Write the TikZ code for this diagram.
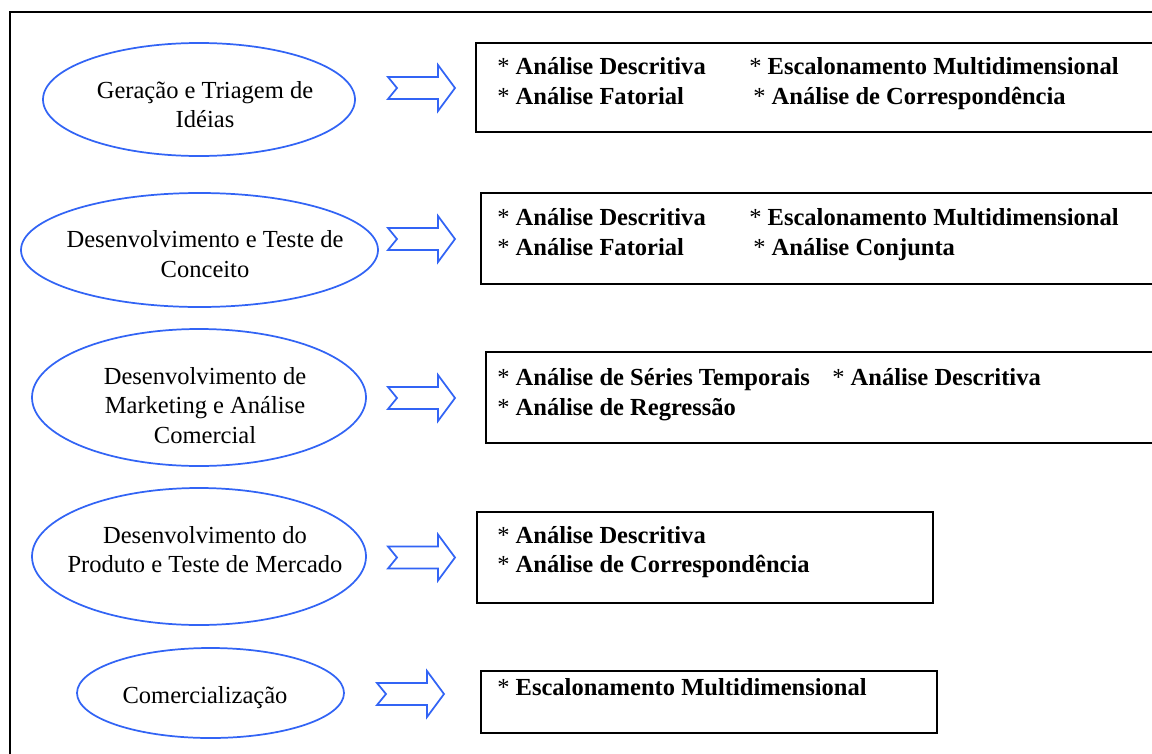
\documentclass[tikz,border=0pt]{standalone}
\usepackage{fontspec}
\setmainfont{Liberation Serif}
\usetikzlibrary{shapes.geometric}
\definecolor{stageblue}{RGB}{50,100,245}
\newcommand{\lightstar}{{\mdseries*}}
\tikzset{
  phase/.style={draw=stageblue, line width=1.3pt, ellipse, inner sep=0pt},
  phasetxt/.style={anchor=base, inner sep=0pt, font=\fontsize{18.4}{22}\selectfont},
  boxline/.style={draw=black, line width=1.5pt},
  boxtxt/.style={anchor=base west, inner sep=0pt, font=\fontsize{18.4}{22}\selectfont\bfseries},
  blockarrow/.pic={\draw[stageblue, line width=1.3pt, line join=miter]
    (0,-11) -- (50,-11) -- (50,-23) -- (67,0) -- (50,23) -- (50,11) -- (0,11) -- (9,0) -- cycle;}
}
\begin{document}
\begin{tikzpicture}[x=0.75pt,y=-0.75pt]
\useasboundingbox (0,0) rectangle (1152,753);
\clip (0,0) rectangle (1152,753);
\fill[white] (0,0) rectangle (1152,753);
% outer frame
\draw[line width=1.5pt] (10,12) rectangle (1170,770);

% ellipses
\node[phase, minimum width=234pt, minimum height=84.75pt] (e1) at (199,99.5) {};
\node[phase, minimum width=267.75pt, minimum height=85.5pt] (e2) at (199.5,250) {};
\node[phase, minimum width=250.5pt, minimum height=102.75pt] (e3) at (199,397.5) {};
\node[phase, minimum width=250.5pt, minimum height=102.75pt] (e4) at (199,556.5) {};
\node[phase, minimum width=200.25pt, minimum height=67.5pt] (e5) at (210.5,693) {};

% ellipse texts
\node[phasetxt] (t1a) at (205,98) {Geração e Triagem de};
\node[phasetxt] (t1b) at (205,127) {Idéias};
\node[phasetxt] (t2a) at (205,247) {Desenvolvimento e Teste de};
\node[phasetxt] (t2b) at (205,277) {Conceito};
\node[phasetxt] (t3a) at (205,384) {Desenvolvimento de};
\node[phasetxt] (t3b) at (205,413) {Marketing e Análise};
\node[phasetxt] (t3c) at (205,443) {Comercial};
\node[phasetxt] (t4a) at (205,543) {Desenvolvimento do};
\node[phasetxt] (t4b) at (205,572) {Produto e Teste de Mercado};
\node[phasetxt] (t5a) at (205,703) {Comercialização};

% block arrows
\pic at (388,88) {blockarrow};
\pic at (388,239) {blockarrow};
\pic at (388,398) {blockarrow};
\pic at (388,557.5) {blockarrow};
\pic at (377,694) {blockarrow};

% boxes
\draw[boxline] (476,43) rectangle (1170,132);
\draw[boxline] (481,193) rectangle (1170,284);
\draw[boxline] (486,352) rectangle (1170,443);
\draw[boxline] (477,512) rectangle (933,603);
\draw[boxline] (481,671) rectangle (937,733);

% box texts
\node[boxtxt] (b1a) at (497,74) {\lightstar{} Análise Descritiva};
\node[boxtxt] (b1b) at (749,74) {\lightstar{} Escalonamento Multidimensional};
\node[boxtxt] (b1c) at (497,104) {\lightstar{} Análise Fatorial};
\node[boxtxt] (b1d) at (753,104) {\lightstar{} Análise de Correspondência};

\node[boxtxt] (b2a) at (497,225) {\lightstar{} Análise Descritiva};
\node[boxtxt] (b2b) at (749,225) {\lightstar{} Escalonamento Multidimensional};
\node[boxtxt] (b2c) at (497,255) {\lightstar{} Análise Fatorial};
\node[boxtxt] (b2d) at (753,255) {\lightstar{} Análise Conjunta};

\node[boxtxt] (b3a) at (497,385) {\lightstar{} Análise de Séries Temporais};
\node[boxtxt] (b3b) at (832,385) {\lightstar{} Análise Descritiva};
\node[boxtxt] (b3c) at (497,415) {\lightstar{} Análise de Regressão};

\node[boxtxt] (b4a) at (497,543) {\lightstar{} Análise Descritiva};
\node[boxtxt] (b4b) at (497,572) {\lightstar{} Análise de Correspondência};

\node[boxtxt] (b5a) at (497,695) {\lightstar{} Escalonamento Multidimensional};
\end{tikzpicture}
\end{document}
